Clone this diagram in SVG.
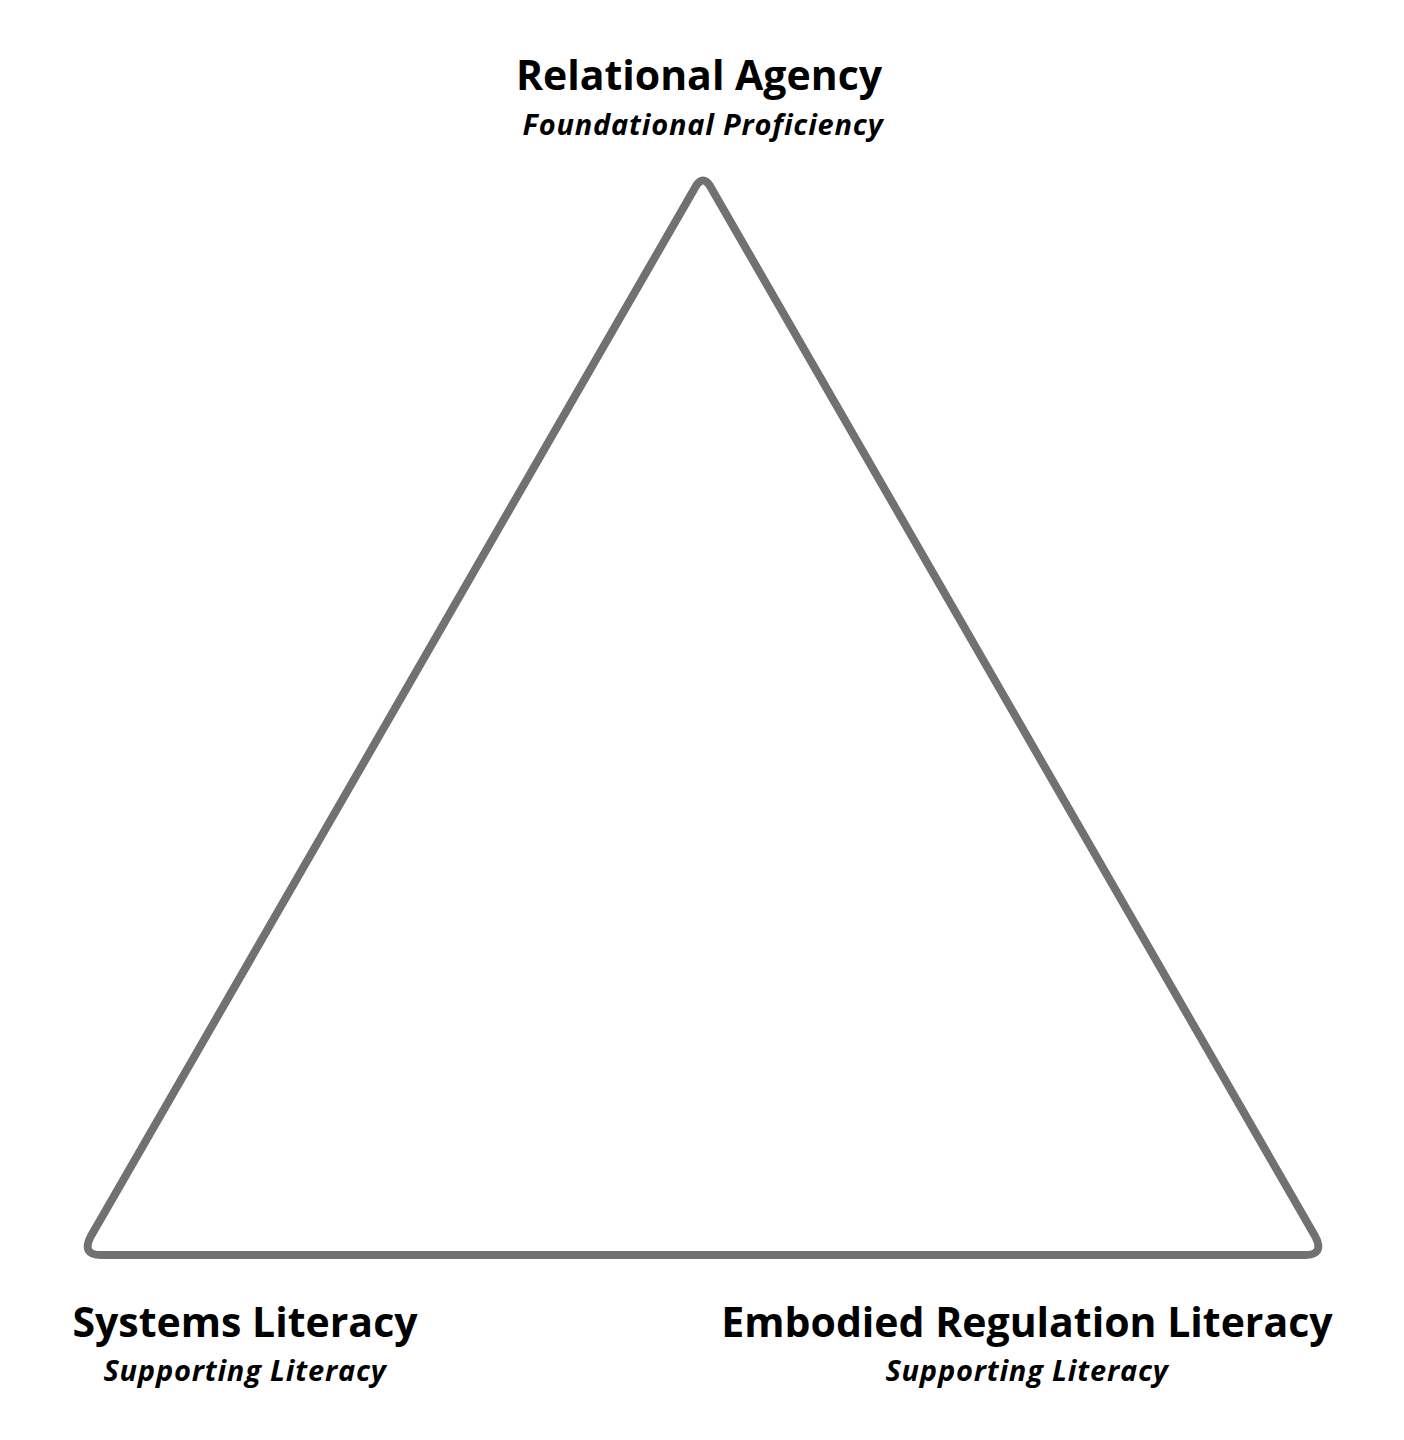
<svg xmlns="http://www.w3.org/2000/svg" width="1404" height="1440" viewBox="0 0 1404 1440">
<style>
.t{font-family:"Open Sans","Liberation Sans",sans-serif;font-weight:700;font-size:41px;fill:#000;text-anchor:middle}
.s{font-family:"Open Sans","Liberation Sans",sans-serif;font-weight:700;font-style:italic;font-size:29px;letter-spacing:0.8px;fill:#000;text-anchor:middle}
</style>
<rect width="1404" height="1440" fill="#fff"/>
<g id="triangle"><path d="M696,186 Q703,175 710,186 L1315,1236 Q1325,1255 1305,1255 L101,1255 Q81,1255 91,1236 Z" fill="none" stroke="#717171" stroke-width="8" stroke-linejoin="round"/></g>
<g id="top"><text class="t" x="699" y="90">Relational Agency</text><text class="s" x="703" y="135">Foundational Proficiency</text></g>
<g id="left"><text class="t" x="245" y="1337">Systems Literacy</text><text class="s" x="245" y="1381">Supporting Literacy</text></g>
<g id="right"><text class="t" x="1027" y="1337">Embodied Regulation Literacy</text><text class="s" x="1027" y="1381">Supporting Literacy</text></g>
<g id="connectors"/>
</svg>
